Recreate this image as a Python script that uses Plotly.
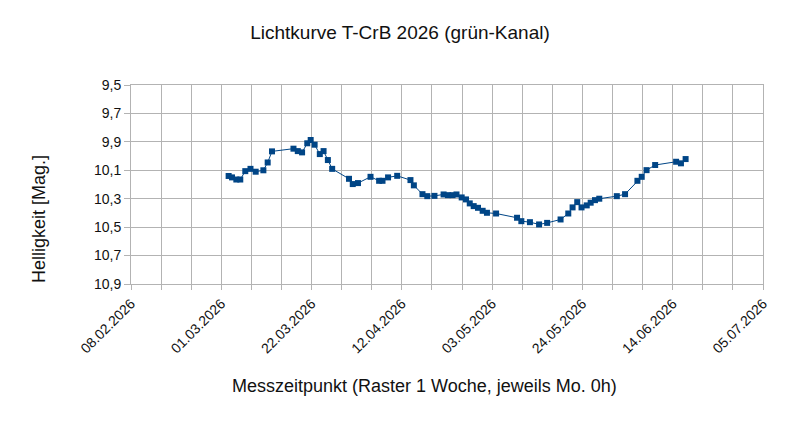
import plotly.graph_objects as go

dates = [
    "2026-03-02 17:00", "2026-03-03 12:00", "2026-03-04 12:00", "2026-03-05 10:00",
    "2026-03-06 14:00", "2026-03-07 19:00", "2026-03-09 00:00", "2026-03-10 19:00",
    "2026-03-11 19:00", "2026-03-12 19:00", "2026-03-17 19:00", "2026-03-18 19:00",
    "2026-03-19 19:00", "2026-03-21 00:00", "2026-03-21 19:00", "2026-03-22 17:00",
    "2026-03-23 22:00", "2026-03-24 19:00", "2026-03-25 19:00", "2026-03-26 19:00",
    "2026-03-30 17:00", "2026-03-31 14:00", "2026-04-01 19:00", "2026-04-04 17:00",
    "2026-04-06 17:00", "2026-04-07 12:00", "2026-04-08 19:00", "2026-04-10 22:00",
    "2026-04-14 00:00", "2026-04-14 19:00", "2026-04-16 19:00", "2026-04-17 22:00",
    "2026-04-19 14:00", "2026-04-21 17:00", "2026-04-22 17:00", "2026-04-23 19:00",
    "2026-04-24 17:00", "2026-04-25 22:00", "2026-04-26 22:00", "2026-04-27 19:00",
    "2026-04-28 17:00", "2026-04-29 17:00", "2026-04-30 19:00", "2026-05-01 19:00",
    "2026-05-03 22:00", "2026-05-08 19:00", "2026-05-09 19:00", "2026-05-11 19:00",
    "2026-05-13 22:00", "2026-05-15 19:00", "2026-05-18 22:00", "2026-05-20 17:00",
    "2026-05-21 17:00", "2026-05-22 19:00", "2026-05-23 19:00", "2026-05-25 00:00",
    "2026-05-25 22:00", "2026-05-26 22:00", "2026-05-27 22:00", "2026-06-01 00:00",
    "2026-06-02 22:00", "2026-06-05 19:00", "2026-06-06 19:00", "2026-06-07 22:00",
    "2026-06-09 22:00", "2026-06-14 19:00", "2026-06-15 22:00", "2026-06-17 00:00",
]
mags = [
    10.14, 10.15, 10.165, 10.165, 10.106, 10.09, 10.11, 10.10,
    10.045, 9.967, 9.948, 9.965, 9.974, 9.91, 9.887, 9.92,
    9.986, 9.965, 10.028, 10.09, 10.16, 10.197, 10.19, 10.146,
    10.174, 10.174, 10.15, 10.139, 10.169, 10.206, 10.268, 10.282,
    10.28, 10.27, 10.275, 10.275, 10.27, 10.291, 10.305, 10.333,
    10.352, 10.364, 10.385, 10.399, 10.404, 10.434, 10.458, 10.465,
    10.481, 10.47, 10.446, 10.404, 10.361, 10.324, 10.361, 10.347,
    10.328, 10.31, 10.30, 10.282, 10.268, 10.174, 10.146, 10.099,
    10.063, 10.04, 10.051, 10.021,
]

x_range = ["2026-02-08", "2026-07-05"]
y_range = [10.9, 9.5]
y_ticks = [9.5, 9.7, 9.9, 10.1, 10.3, 10.5, 10.7, 10.9]

DAY = 86400000
grid = "#b3b3b3"
font = "Liberation Sans, Arial, sans-serif"

fig = go.Figure()
fig.add_trace(go.Scatter(
    x=dates, y=mags, mode="lines+markers",
    line=dict(color="#004586", width=1),
    marker=dict(symbol="square", size=6, color="#004586"),
    showlegend=False,
))

fig.update_layout(
    width=802, height=421,
    margin=dict(l=131, r=39, t=85, b=137),
    paper_bgcolor="white", plot_bgcolor="white",
    separators=",.",
    font=dict(family=font, size=14, color="#000000"),
    title=dict(text="Lichtkurve T-CrB 2026 (grün-Kanal)", x=400 / 802, xanchor="center",
               y=1 - 32 / 421, yanchor="middle", yref="container",
               font=dict(family=font, size=19, color="#111111")),
)

fig.update_xaxes(
    type="date", range=x_range,
    tick0="2026-02-08", dtick=21 * DAY, tickformat="%d.%m.%Y", tickangle=-45,
    showgrid=True, gridcolor=grid, gridwidth=1,
    ticks="outside", ticklen=5, tickcolor=grid,
    minor=dict(dtick=7 * DAY, tick0="2026-02-08", showgrid=True, gridcolor=grid,
               ticks="outside", ticklen=5, tickcolor=grid),
    showline=True, linecolor=grid, linewidth=1, mirror=True,
    zeroline=False, tickfont=dict(size=14, color="#111111"),
)
fig.update_yaxes(
    range=y_range, tickvals=y_ticks, tickformat=".1f",
    showgrid=True, gridcolor=grid, gridwidth=1,
    ticks="outside", ticklen=6, tickcolor=grid,
    showline=True, linecolor=grid, linewidth=1, mirror=True,
    zeroline=False, tickfont=dict(size=14, color="#111111"),
)

fig.add_annotation(text="Helligkeit [Mag.]", textangle=-90,
                   xref="paper", yref="paper", x=(39 - 131) / 632, y=(284 - 219) / 199,
                   xanchor="center", yanchor="middle", showarrow=False,
                   font=dict(family=font, size=18, color="#111111"))
fig.add_annotation(text="Messzeitpunkt (Raster 1 Woche, jeweils Mo. 0h)",
                   xref="paper", yref="paper", x=(424 - 131) / 632, y=(284 - 386) / 199,
                   xanchor="center", yanchor="middle", showarrow=False,
                   font=dict(family=font, size=18, color="#111111"))

fig.write_html("out.html")
